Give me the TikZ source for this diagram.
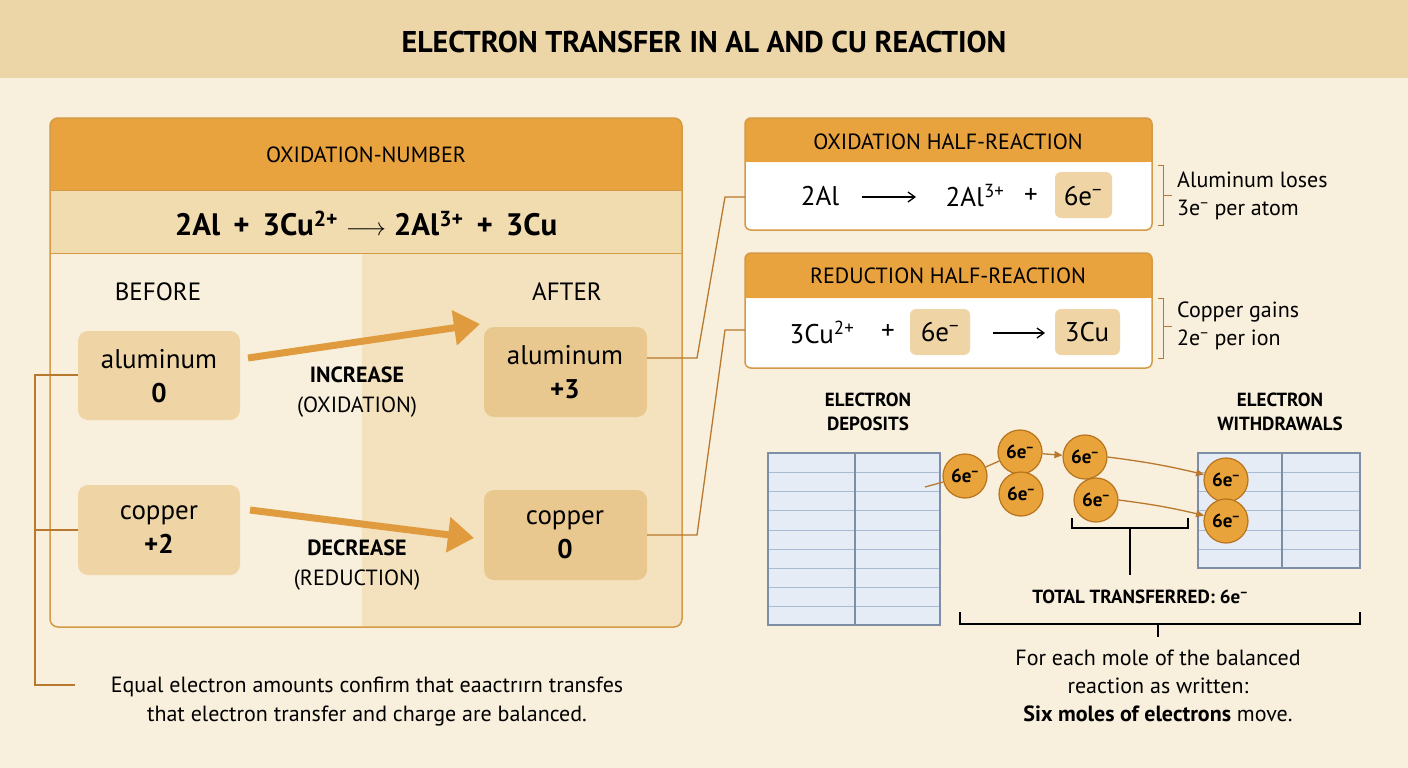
\documentclass[tikz,border=0pt]{standalone}
\usepackage{fontspec}
\setmainfont{PT Sans}
\usetikzlibrary{arrows.meta}
\definecolor{bg}{HTML}{F8EFDC}
\definecolor{band}{HTML}{ECD5A6}
\definecolor{orng}{HTML}{E8A23E}
\definecolor{bord}{HTML}{D49A45}
\definecolor{eqb}{HTML}{F1DCB0}
\definecolor{tan}{HTML}{EFD5A5}
\definecolor{tand}{HTML}{E8C88F}
\definecolor{ledg}{HTML}{E5ECF6}
\definecolor{ledl}{HTML}{A9BBD3}
\definecolor{ledb}{HTML}{7D8EA6}
\definecolor{coin}{HTML}{E8A33A}
\definecolor{coinb}{HTML}{B8731E}
\definecolor{conn}{HTML}{B8782E}
\newcommand{\sm}{\textsuperscript{−}}
\begin{document}
\begin{tikzpicture}[x=1pt,y=-1pt,
 txt/.style={inner sep=0pt,align=center,text=black},
 hdr/.style={txt,font=\fontsize{22}{24}\selectfont},
 hr/.style={txt,font=\fontsize{27}{28}\selectfont},
 pill/.style={rounded corners=10pt,fill=tan,draw=none},
 coinn/.style={circle,minimum size=44pt,fill=coin,draw=coinb,line width=1.2pt,inner sep=0pt,font=\bfseries\fontsize{19}{19}\selectfont},
 cl/.style={conn,line width=1.3pt},
 rarr/.style={black,line width=1.3pt,-{Straight Barb[length=7pt,width=10pt]}},
 bigarr/.style={line width=7pt,orng!80!brown,-{Triangle[length=26pt,width=34pt]}},
 br/.style={black,line width=1.2pt}]
\useasboundingbox (0,0) rectangle (1408,768);
\fill[bg] (0,0) rectangle (1408,768);
\fill[band] (0,0) rectangle (1408,78);
\node[txt,font=\bfseries\fontsize{30}{32}\selectfont] (title) at (704,42) {ELECTRON TRANSFER IN AL AND CU REACTION};
% main box
\begin{scope}
\clip[rounded corners=8pt] (50,118) rectangle (682,627);
\fill[bg] (50,118) rectangle (682,627);
\fill[eqb!70!bg] (362,253) rectangle (682,627);
\fill[orng] (50,118) rectangle (682,190);
\fill[eqb] (50,190) rectangle (682,253);
\end{scope}
\draw[bord,line width=1.5pt,rounded corners=8pt] (50,118) rectangle (682,627);
\draw[bord,line width=1pt] (50,190) -- (682,190) (50,253) -- (682,253);
\node[hdr] (hd) at (366,155) {OXIDATION-NUMBER};
\node[txt,font=\bfseries\fontsize{31}{32}\selectfont] (eq) at (366,223) {2Al \,+\, 3Cu\textsuperscript{2+} $\longrightarrow$ 2Al\textsuperscript{3+} \,+\, 3Cu};
\node[hdr,font=\fontsize{25}{26}\selectfont] (bef) at (158,292) {BEFORE};
\node[hdr,font=\fontsize{25}{26}\selectfont] (aft) at (567,292) {AFTER};
\fill[pill] (78,331) rectangle (240,420);
\fill[pill,fill=tand] (484,327) rectangle (647,417);
\fill[pill] (78,485) rectangle (240,575);
\fill[pill,fill=tand] (484,490) rectangle (647,580);
\node[txt,font=\fontsize{27}{34}\selectfont] (al0) at (159,376) {aluminum\\\textbf{0}};
\node[txt,font=\fontsize{27}{34}\selectfont] (al3) at (565,372) {aluminum\\\textbf{+3}};
\node[txt,font=\fontsize{27}{34}\selectfont] (cu2) at (159,530) {copper\\\textbf{+2}};
\node[txt,font=\fontsize{27}{34}\selectfont] (cu0) at (565,535) {copper\\\textbf{0}};
\coordinate (a1) at (248,358); \coordinate (a2) at (480,324);
\coordinate (b1) at (250,510); \coordinate (b2) at (474,538);
\draw[bigarr] (a1) -- (a2);
\draw[bigarr] (b1) -- (b2);
\node[txt,font=\fontsize{22}{30}\selectfont] (inc) at (357,392) {\textbf{INCREASE}\\(OXIDATION)};
\node[txt,font=\fontsize{22}{30}\selectfont] (dec) at (357,565) {\textbf{DECREASE}\\(REDUCTION)};
% left bracket
\coordinate (l1) at (35,375); \coordinate (l2) at (35,530); \coordinate (l3) at (35,685); \coordinate (l4) at (75,685);
\draw[cl] (78,375) -- (l1) -- (l3) -- (l4);
\draw[cl] (78,530) -- (l2);
\node[txt,font=\fontsize{22}{29}\selectfont] (note) at (367,702) {Equal electron amounts confirm that eaactrırn transfes\\that electron transfer and charge are balanced.};
% half reaction boxes
\fill[white,rounded corners=6pt] (745,118) rectangle (1152,230);
\fill[orng,rounded corners=6pt] (745,118) rectangle (1152,162);
\fill[orng] (745,150) rectangle (1152,162);
\draw[bord,line width=1.5pt,rounded corners=6pt] (745,118) rectangle (1152,230);
\node[hdr] (oxh) at (948,142) {OXIDATION HALF-REACTION};
\fill[pill,rounded corners=6pt] (1055,172) rectangle (1112,218);
\node[hr] (o1) at (820,196) {2Al};
\node[hr] (o2) at (975,196) {2Al\textsuperscript{3+}};
\node[hr] (o3) at (1031,196) {+};
\node[hr] (o4) at (1083,196) {6e\sm};
\draw[rarr] (862,197) -- (916,197);
\fill[white,rounded corners=6pt] (745,253) rectangle (1152,368);
\fill[orng,rounded corners=6pt] (745,253) rectangle (1152,298);
\fill[orng] (745,285) rectangle (1152,298);
\draw[bord,line width=1.5pt,rounded corners=6pt] (745,253) rectangle (1152,368);
\node[hdr] (rdh) at (948,276) {REDUCTION HALF-REACTION};
\fill[pill,rounded corners=6pt] (910,309) rectangle (970,355);
\fill[pill,rounded corners=6pt] (1055,309) rectangle (1120,355);
\node[hr] (r1) at (822,332) {3Cu\textsuperscript{2+}};
\node[hr] (r2) at (888,332) {+};
\node[hr] (r3) at (940,332) {6e\sm};
\node[hr] (r4) at (1087,332) {3Cu};
\draw[rarr] (993,333) -- (1045,333);
\coordinate (c1) at (697,358); \coordinate (c2) at (725,197);
\coordinate (c3) at (697,535); \coordinate (c4) at (725,330);
\draw[cl] (647,358) -- (c1) -- (c2) -- (745,197);
\draw[cl] (647,535) -- (c3) -- (c4) -- (745,330);
\draw[conn,line width=1pt] (1158,165) -- (1163,165) -- (1163,225) -- (1158,225) (1163,195) -- (1172,195);
\draw[conn,line width=1pt] (1158,298) -- (1163,298) -- (1163,358) -- (1158,358) (1163,326) -- (1172,326);
\node[txt,anchor=west,align=left,font=\fontsize{22}{28}\selectfont] (alt) at (1177,196) {Aluminum loses\\3e\sm\ per atom};
\node[txt,anchor=west,align=left,font=\fontsize{22}{28}\selectfont] (cut) at (1177,326) {Copper gains\\2e\sm\ per ion};
% ledgers
\node[txt,font=\bfseries\fontsize{19}{24}\selectfont] (dep) at (868,412) {ELECTRON\\DEPOSITS};
\node[txt,font=\bfseries\fontsize{19}{24}\selectfont] (wd) at (1280,412) {ELECTRON\\WITHDRAWALS};
\fill[ledg] (768,453) rectangle (940,625);
\foreach \y in {472,491,510,530,549,568,587,606} \draw[ledl,line width=1pt] (768,\y) -- (940,\y);
\draw[ledb,line width=1.3pt] (768,453) rectangle (940,625) (855,453) -- (855,625);
\fill[ledg] (1198,453) rectangle (1360,568);
\foreach \y in {472,491,510,530,549} \draw[ledl,line width=1pt] (1198,\y) -- (1360,\y);
\draw[ledb,line width=1.3pt] (1198,453) rectangle (1360,568) (1282,453) -- (1282,568);
\coordinate (s0) at (925,487);
\node[coinn] (k1) at (965,476) {6e\sm};
\node[coinn] (k2) at (1020,452) {6e\sm};
\node[coinn] (k3) at (1021,494) {6e\sm};
\node[coinn] (k4) at (1085,457) {6e\sm};
\node[coinn] (k5) at (1096,500) {6e\sm};
\node[coinn] (k6) at (1226,480) {6e\sm};
\node[coinn] (k7) at (1226,521) {6e\sm};
\draw[cl] (s0) -- (k1);
\draw[cl] (k1) -- (k2);
\draw[cl,-{Triangle[length=8pt,width=7pt]}] (k2) -- (k4);
\draw[cl,-{Triangle[length=8pt,width=7pt]}] (k4.east) to[bend left=3] (k6);
\draw[cl,-{Triangle[length=8pt,width=7pt]}] (k5.east) to[bend left=3] (k7);
\coordinate (t1) at (1130,575);
\draw[br] (1072,518) -- (1072,528) -- (1188,528) -- (1188,518) (1130,528) -- (t1);
\node[txt,font=\bfseries\fontsize{19}{22}\selectfont] (tot) at (1140,597) {TOTAL TRANSFERRED: 6e\sm};
\coordinate (t2) at (1158,637);
\draw[br] (960,612) -- (960,624) -- (1360,624) -- (1360,612) (1158,624) -- (t2);
\node[txt,font=\fontsize{22}{28}\selectfont] (fin) at (1158,686) {For each mole of the balanced\\reaction as written:\\\textbf{Six moles of electrons} move.};
\end{tikzpicture}
\end{document}
